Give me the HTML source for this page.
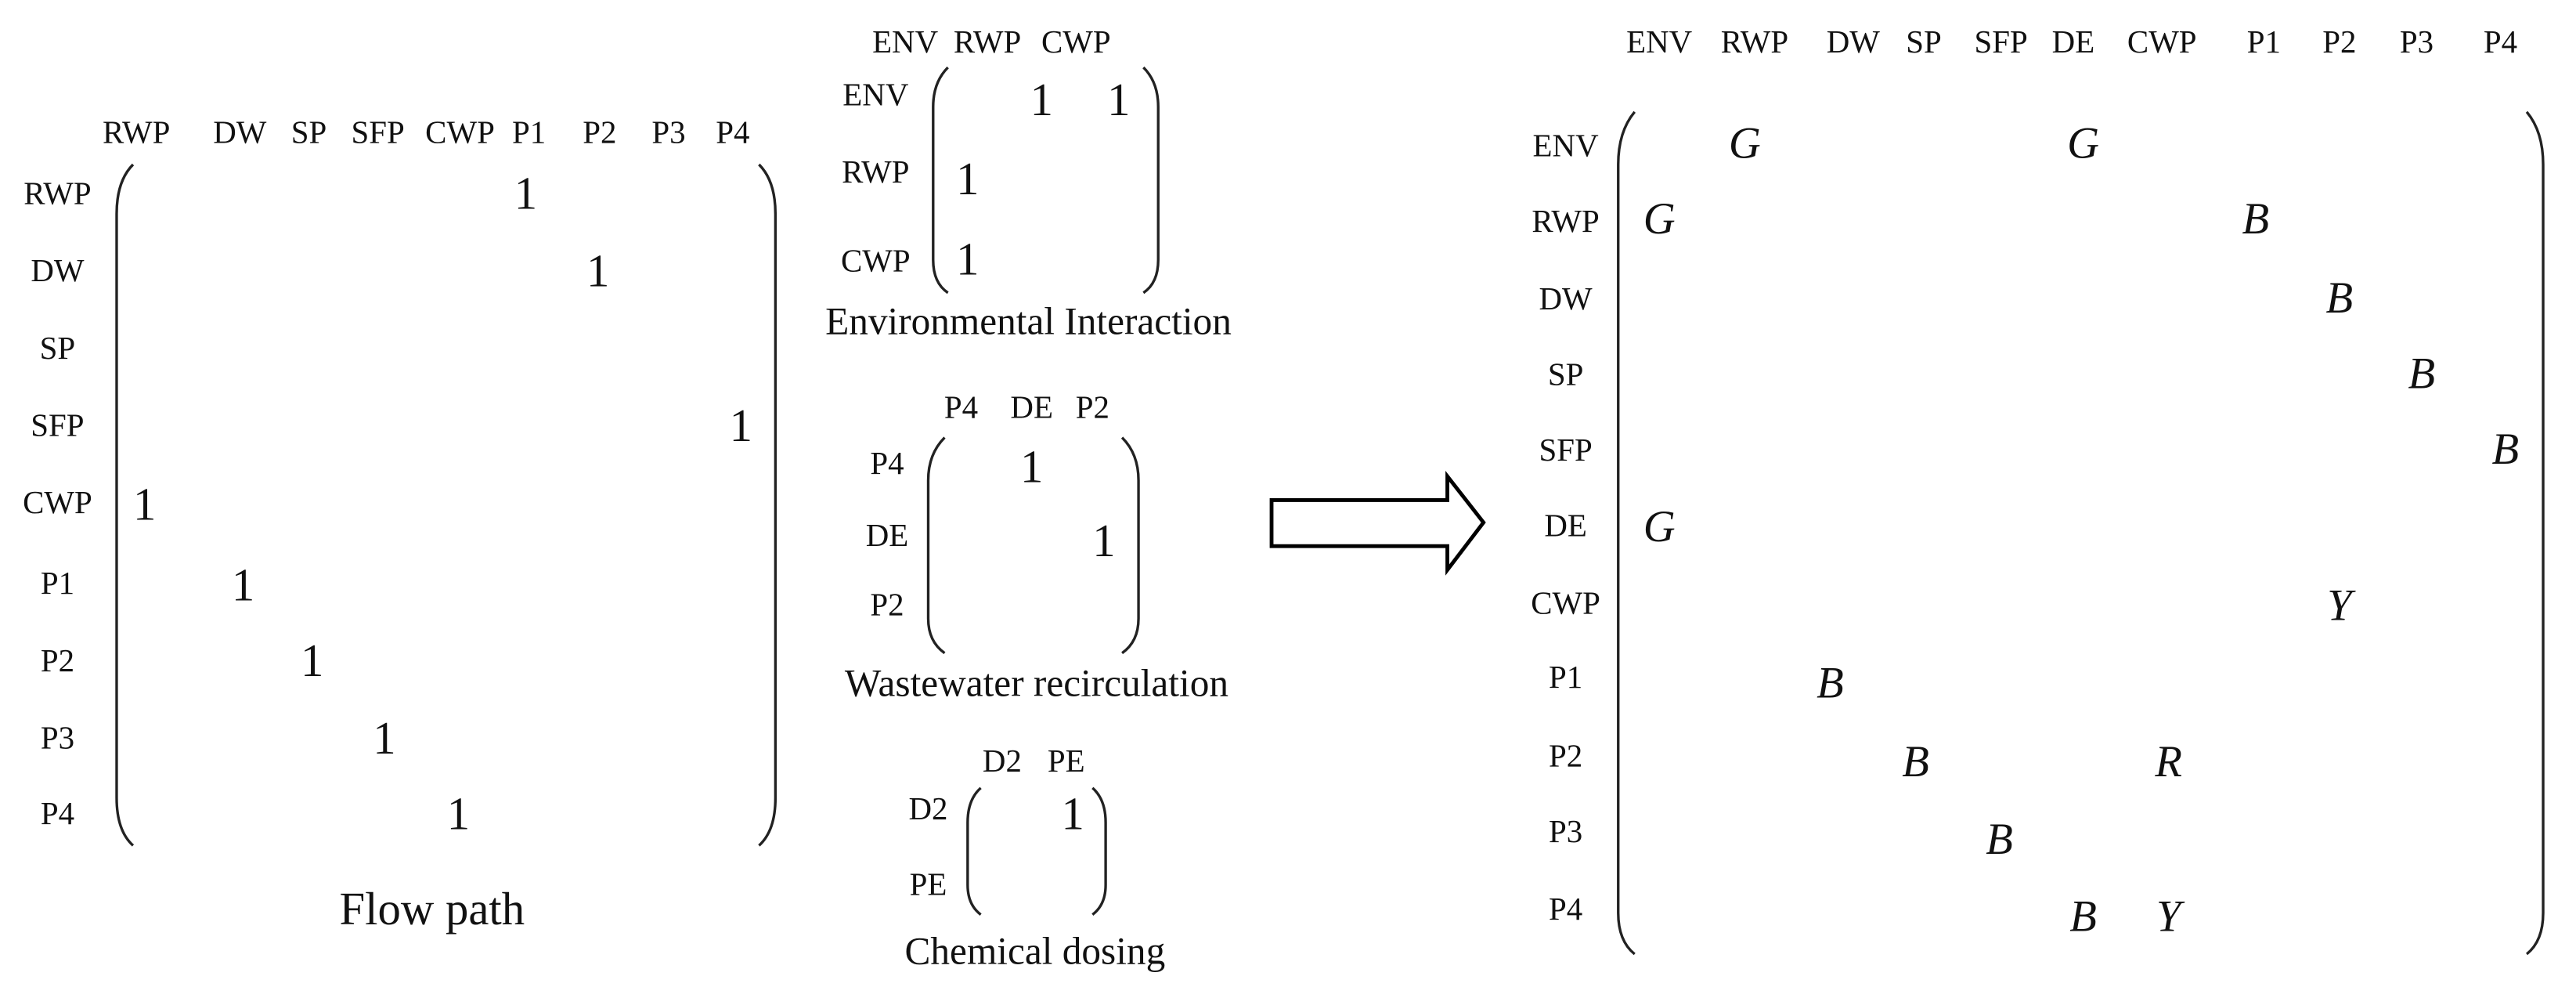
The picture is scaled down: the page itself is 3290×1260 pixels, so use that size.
<!DOCTYPE html>
<html><head><meta charset="utf-8"><style>
html,body{margin:0;padding:0;background:#fff;}
svg{display:block;}
text{font-family:"Liberation Serif",serif;fill:#111;}
.l{font-size:19.5px;text-anchor:middle;}
.o{font-size:28px;text-anchor:middle;}
.c{font-size:23.5px;text-anchor:middle;}
.i{font-size:27px;font-style:italic;text-anchor:middle;}
.b{fill:none;stroke:#222;stroke-width:1.6;}
</style></head><body>
<svg width="3290" height="1260" viewBox="0 0 1568 600" preserveAspectRatio="none">
<g>
<text class="l" x="83" y="87">RWP</text><text class="l" x="146" y="87">DW</text><text class="l" x="188" y="87">SP</text><text class="l" x="230" y="87">SFP</text><text class="l" x="280" y="87">CWP</text><text class="l" x="322" y="87">P1</text><text class="l" x="365" y="87">P2</text><text class="l" x="407" y="87">P3</text><text class="l" x="446" y="87">P4</text>
<text class="l" x="35" y="124">RWP</text><text class="l" x="35" y="171">DW</text><text class="l" x="35" y="218">SP</text><text class="l" x="35" y="265">SFP</text><text class="l" x="35" y="312">CWP</text><text class="l" x="35" y="361">P1</text><text class="l" x="35" y="408">P2</text><text class="l" x="35" y="455">P3</text><text class="l" x="35" y="501">P4</text>
<path class="b" d="M81 100 Q71 110 71 130 L71 485 Q71 505 81 514"/>
<path class="b" d="M462 100 Q472 110 472 130 L472 485 Q472 505 462 514"/>
<text class="o" x="320" y="127">1</text><text class="o" x="364" y="174">1</text><text class="o" x="451" y="268">1</text><text class="o" x="88" y="316">1</text><text class="o" x="148" y="365">1</text><text class="o" x="190" y="411">1</text><text class="o" x="234" y="458">1</text><text class="o" x="279" y="504">1</text>
<text class="o" style="font-size:28px" x="263" y="562">Flow path</text>
</g>
<g>
<text class="l" x="551" y="32">ENV</text><text class="l" x="601" y="32">RWP</text><text class="l" x="655" y="32">CWP</text>
<text class="l" x="533" y="64">ENV</text><text class="l" x="533" y="111">RWP</text><text class="l" x="533" y="165">CWP</text>
<path class="b" d="M577 41 Q568 50 568 65 L568 158 Q568 172 577 178"/>
<path class="b" d="M696 41 Q705 50 705 65 L705 158 Q705 172 696 178"/>
<text class="o" x="634" y="70">1</text><text class="o" x="681" y="70">1</text><text class="o" x="589" y="118">1</text><text class="o" x="589" y="167">1</text>
<text class="c" x="626" y="203">Environmental Interaction</text>
</g>
<g>
<text class="l" x="585" y="254">P4</text><text class="l" x="628" y="254">DE</text><text class="l" x="665" y="254">P2</text>
<text class="l" x="540" y="288">P4</text><text class="l" x="540" y="332">DE</text><text class="l" x="540" y="374">P2</text>
<path class="b" d="M575 266 Q565 276 565 292 L565 376 Q565 390 575 397"/>
<path class="b" d="M683 266 Q693 276 693 292 L693 376 Q693 390 683 397"/>
<text class="o" x="628" y="293">1</text><text class="o" x="672" y="338">1</text>
<text class="c" x="631" y="423">Wastewater recirculation</text>
</g>
<g>
<text class="l" x="610" y="469">D2</text><text class="l" x="649" y="469">PE</text>
<text class="l" x="565" y="498">D2</text><text class="l" x="565" y="544">PE</text>
<path class="b" d="M597 479 Q589 486 589 500 L589 538 Q589 550 597 556"/>
<path class="b" d="M665 479 Q673 486 673 500 L673 538 Q673 550 665 556"/>
<text class="o" x="653" y="504">1</text>
<text class="c" x="630" y="586">Chemical dosing</text>
</g>
<path d="M774 304 L881 304 L881 289.5 L903 317.6 L881 346.5 L881 332 L774 332 Z" fill="#fff" stroke="#000" stroke-width="2.3" stroke-linejoin="miter"/>
<g>
<text class="l" x="1010" y="32">ENV</text><text class="l" x="1068" y="32">RWP</text><text class="l" x="1128" y="32">DW</text><text class="l" x="1171" y="32">SP</text><text class="l" x="1218" y="32">SFP</text><text class="l" x="1262" y="32">DE</text><text class="l" x="1316" y="32">CWP</text><text class="l" x="1378" y="32">P1</text><text class="l" x="1424" y="32">P2</text><text class="l" x="1471" y="32">P3</text><text class="l" x="1522" y="32">P4</text>
<text class="l" x="953" y="95">ENV</text><text class="l" x="953" y="141">RWP</text><text class="l" x="953" y="188">DW</text><text class="l" x="953" y="234">SP</text><text class="l" x="953" y="280">SFP</text><text class="l" x="953" y="326">DE</text><text class="l" x="953" y="373">CWP</text><text class="l" x="953" y="418">P1</text><text class="l" x="953" y="466">P2</text><text class="l" x="953" y="512">P3</text><text class="l" x="953" y="559">P4</text>
<path class="b" d="M995 68 Q985 80 985 100 L985 555 Q985 572 995 580"/>
<path class="b" d="M1538 68 Q1548 80 1548 100 L1548 555 Q1548 572 1538 580"/>
<text class="i" x="1062" y="96">G</text><text class="i" x="1268" y="96">G</text>
<text class="i" x="1010" y="142">G</text><text class="i" x="1373" y="142">B</text>
<text class="i" x="1424" y="190">B</text>
<text class="i" x="1474" y="236">B</text>
<text class="i" x="1525" y="282">B</text>
<text class="i" x="1010" y="329">G</text>
<text class="i" x="1424" y="377">Y</text>
<text class="i" x="1114" y="424">B</text>
<text class="i" x="1166" y="472">B</text><text class="i" x="1320" y="472">R</text>
<text class="i" x="1217" y="519">B</text>
<text class="i" x="1268" y="566">B</text><text class="i" x="1320" y="566">Y</text>
</g>
</svg>
</body></html>
